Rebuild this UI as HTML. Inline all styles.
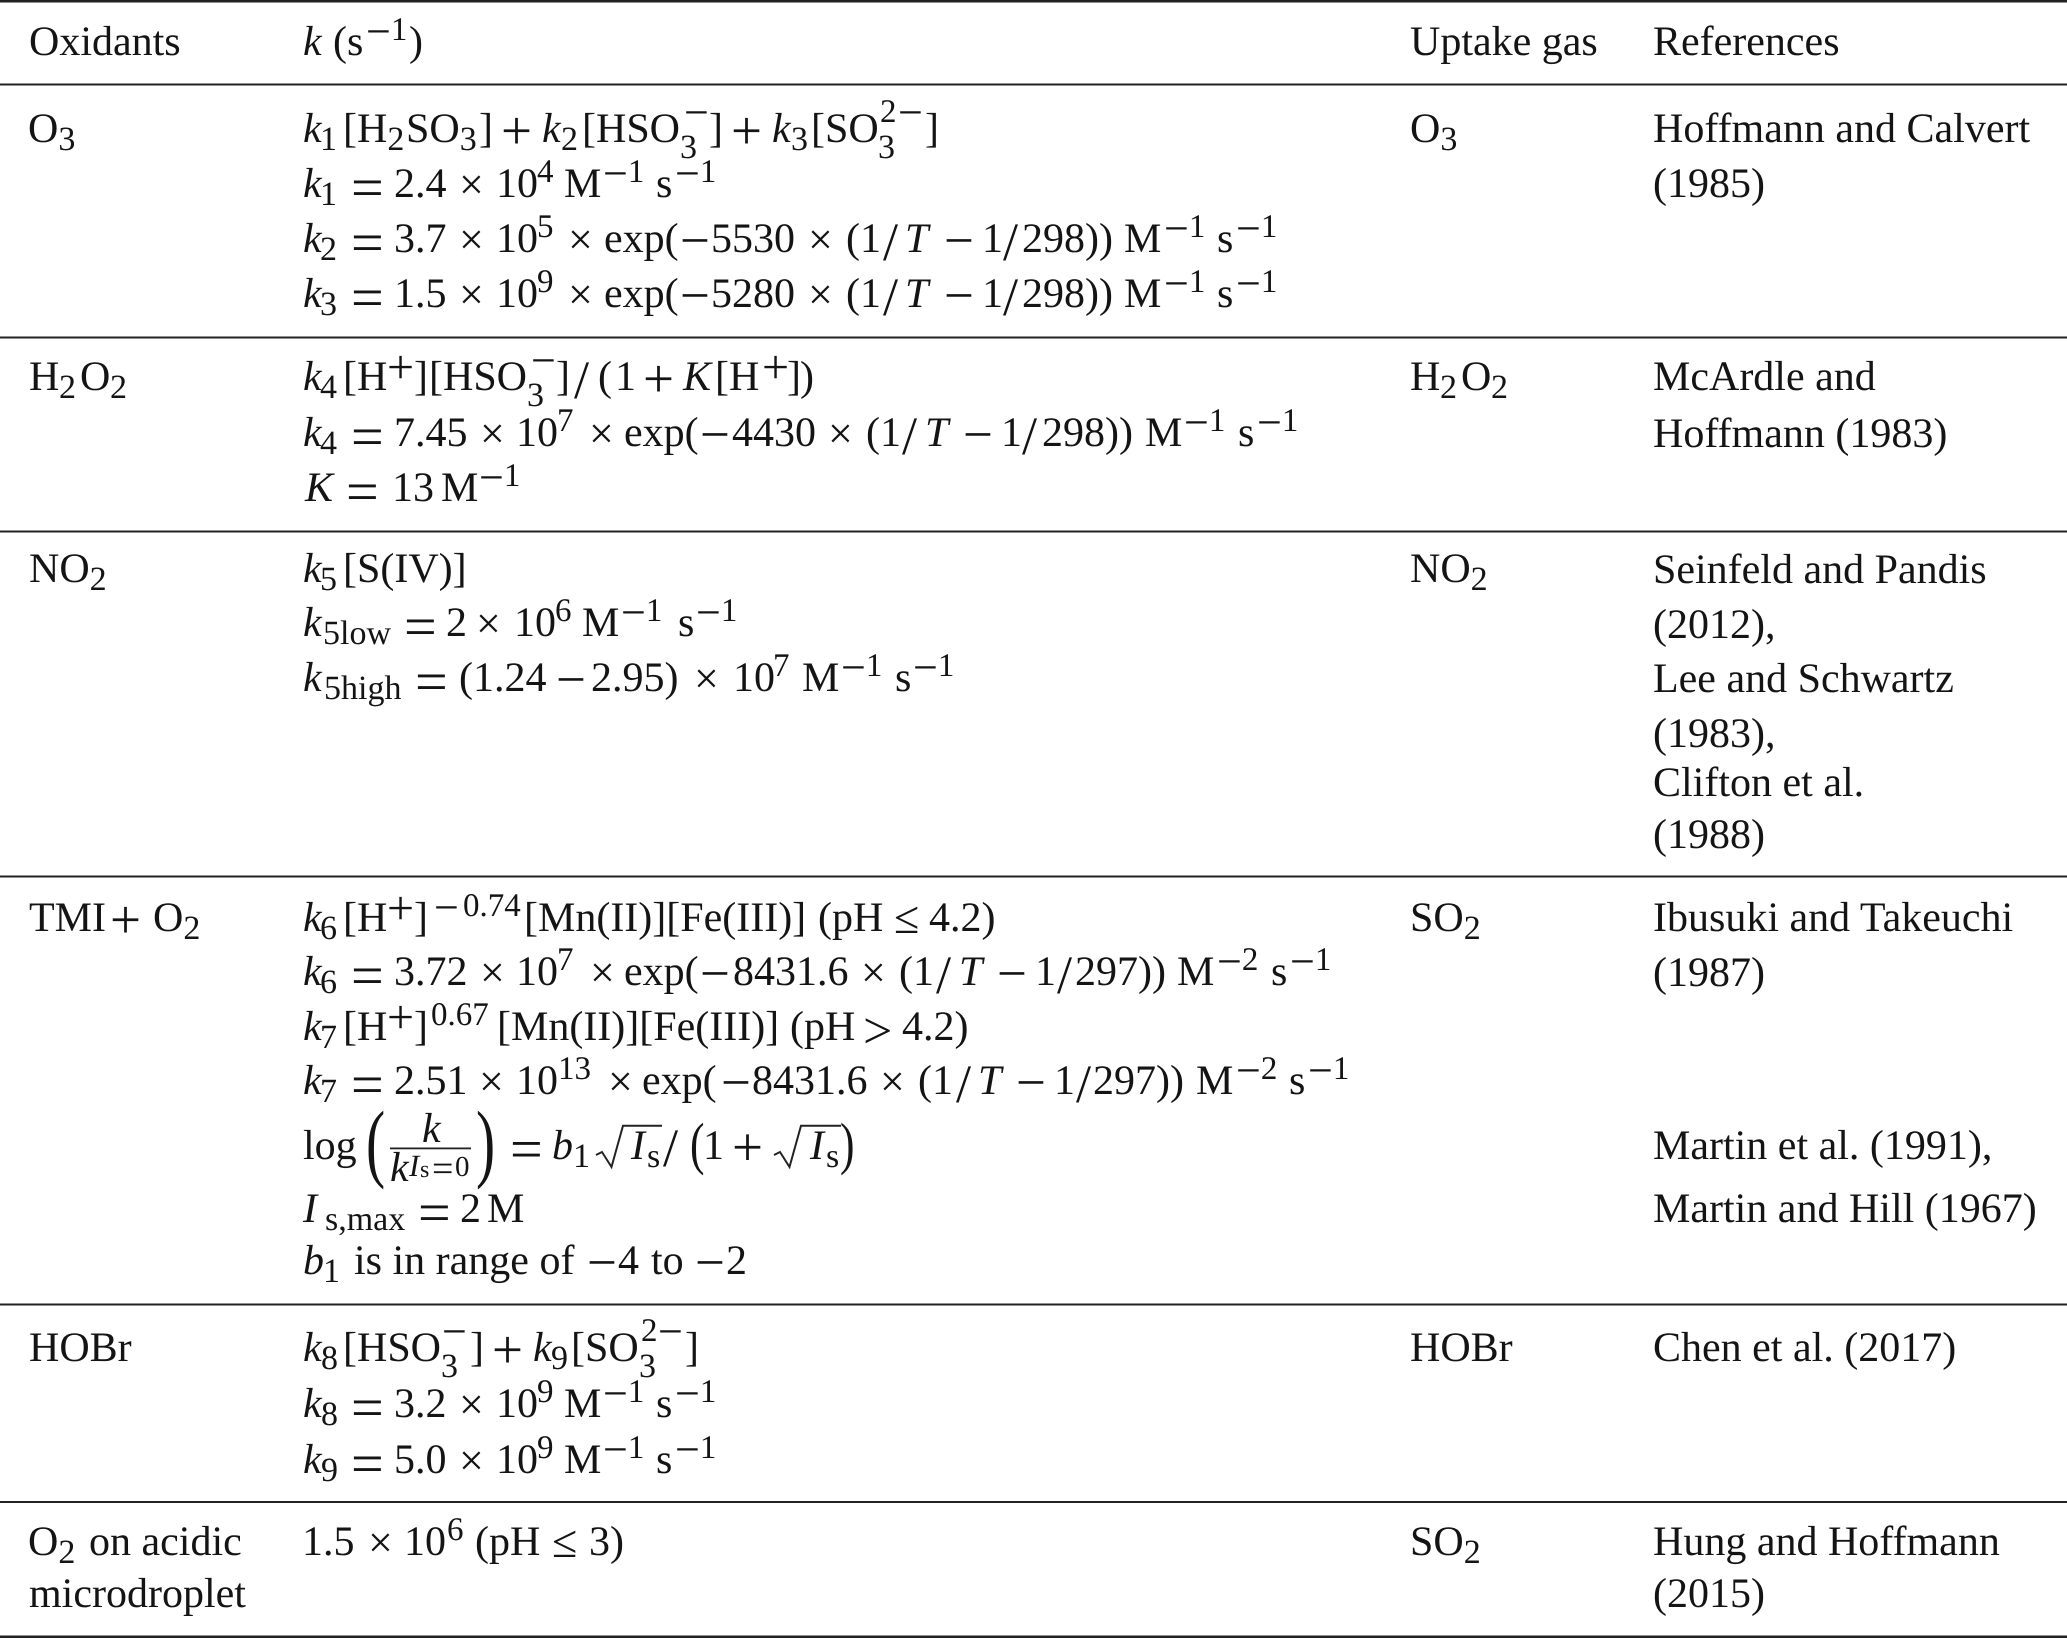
<!DOCTYPE html>
<html><head><meta charset="utf-8"><style>
html,body{margin:0;padding:0;background:#fff}
svg{display:block}
text{font-family:"Liberation Serif",serif;font-size:42px;fill:#141414;white-space:pre;text-rendering:geometricPrecision}
.i{font-style:italic}
.d{font-size:34px;baseline-shift:-8px}
.D{font-size:34px;baseline-shift:-16px}
.u{font-size:33px;baseline-shift:15px}
.U{font-size:33px;baseline-shift:20px}
.m{font-size:44px;baseline-shift:9px}
.n{font-size:44px;baseline-shift:15px}
.p{font-size:48px;baseline-shift:7px}
.M{font-size:53px;baseline-shift:-6px}
.e{font-size:58px;baseline-shift:-9.5px}
.x{font-size:44px;baseline-shift:-2px}
.a{font-size:55px;baseline-shift:-6.5px}
.l{font-size:46px;baseline-shift:-2px}
.g{font-size:52px;baseline-shift:-8px}
.v{font-size:54px;baseline-shift:-8px}
</style></head><body>
<svg xmlns="http://www.w3.org/2000/svg" width="2067" height="1638" viewBox="0 0 2067 1638">
<rect width="2067" height="1638" fill="#fff"/>
<g fill="#222">
<rect x="0" y="0" width="2067" height="2.5"/>
<rect x="0" y="83.5" width="2067" height="2"/>
<rect x="0" y="336.5" width="2067" height="2"/>
<rect x="0" y="530.5" width="2067" height="2"/>
<rect x="0" y="875.5" width="2067" height="2"/>
<rect x="0" y="1303.5" width="2067" height="2"/>
<rect x="0" y="1501" width="2067" height="2"/>
<rect x="0" y="1635.5" width="2067" height="2.5"/>
</g>

<!-- header -->
<text x="29" y="55">Oxidants</text>
<text y="55"><tspan x="303" class="i">k</tspan><tspan x="333">(s</tspan><tspan x="366" class="m">−</tspan><tspan class="u">1</tspan><tspan x="409">)</tspan></text>
<text x="1410" y="55">Uptake gas</text>
<text x="1653" y="55">References</text>

<!-- O3 -->
<text y="142" x="28">O<tspan class="d">3</tspan></text>
<text y="142"><tspan x="303" class="i">k</tspan><tspan x="320" class="d">1</tspan><tspan x="343">[H</tspan><tspan class="d">2</tspan><tspan x="406">SO</tspan><tspan class="d">3</tspan><tspan x="479">]</tspan><tspan x="501" class="a">+</tspan><tspan x="542" class="i">k</tspan><tspan x="561" class="d">2</tspan><tspan x="582">[HSO</tspan><tspan x="680" class="D">3</tspan><tspan x="684" class="n">−</tspan><tspan x="709">]</tspan><tspan x="731" class="a">+</tspan><tspan x="772" class="i">k</tspan><tspan x="791" class="d">3</tspan><tspan x="811">[SO</tspan><tspan x="878" class="D">3</tspan><tspan x="880" class="U">2</tspan><tspan x="898" class="n">−</tspan><tspan x="925">]</tspan></text>
<text y="197"><tspan x="303" class="i">k</tspan><tspan x="320" class="d">1</tspan><tspan x="351" class="e">=</tspan><tspan x="394">2.4</tspan><tspan x="459" class="x">×</tspan><tspan x="496">10</tspan><tspan x="537" class="u">4</tspan><tspan x="564">M</tspan><tspan x="603" class="m">−</tspan><tspan class="u">1</tspan><tspan x="656">s</tspan><tspan x="675" class="m">−</tspan><tspan class="u">1</tspan></text>
<text y="252"><tspan x="303" class="i">k</tspan><tspan x="320" class="d">2</tspan><tspan x="351" class="e">=</tspan><tspan x="394">3.7</tspan><tspan x="459" class="x">×</tspan><tspan x="496">10</tspan><tspan x="537" class="u">5</tspan><tspan x="568" class="x">×</tspan><tspan x="604">exp(</tspan><tspan x="680" class="M">−</tspan><tspan x="711">5530</tspan><tspan x="808" class="x">×</tspan><tspan x="846">(1</tspan><tspan x="883" class="v">/</tspan><tspan x="905" class="i">T</tspan><tspan x="944" class="M">−</tspan><tspan x="982">1</tspan><tspan x="1003" class="v">/</tspan><tspan x="1022">298))</tspan><tspan x="1124">M</tspan><tspan x="1164" class="m">−</tspan><tspan class="u">1</tspan><tspan x="1217">s</tspan><tspan x="1236" class="m">−</tspan><tspan class="u">1</tspan></text>
<text y="307"><tspan x="303" class="i">k</tspan><tspan x="320" class="d">3</tspan><tspan x="351" class="e">=</tspan><tspan x="394">1.5</tspan><tspan x="459" class="x">×</tspan><tspan x="496">10</tspan><tspan x="537" class="u">9</tspan><tspan x="568" class="x">×</tspan><tspan x="604">exp(</tspan><tspan x="680" class="M">−</tspan><tspan x="711">5280</tspan><tspan x="808" class="x">×</tspan><tspan x="846">(1</tspan><tspan x="883" class="v">/</tspan><tspan x="905" class="i">T</tspan><tspan x="944" class="M">−</tspan><tspan x="982">1</tspan><tspan x="1003" class="v">/</tspan><tspan x="1022">298))</tspan><tspan x="1124">M</tspan><tspan x="1164" class="m">−</tspan><tspan class="u">1</tspan><tspan x="1217">s</tspan><tspan x="1236" class="m">−</tspan><tspan class="u">1</tspan></text>
<text x="1410" y="142">O<tspan class="d">3</tspan></text>
<text x="1653" y="142">Hoffmann and Calvert</text>
<text x="1653" y="197">(1985)</text>

<!-- H2O2 -->
<text y="390"><tspan x="29">H</tspan><tspan x="59" class="d">2</tspan><tspan x="80">O</tspan><tspan x="110" class="d">2</tspan></text>
<text y="390"><tspan x="303" class="i">k</tspan><tspan x="320" class="d">4</tspan><tspan x="343">[H</tspan><tspan x="387" class="p">+</tspan><tspan x="414">]</tspan><tspan x="429">[HSO</tspan><tspan x="527" class="D">3</tspan><tspan x="531" class="n">−</tspan><tspan x="556">]</tspan><tspan x="574" class="v">/</tspan><tspan x="598">(</tspan><tspan x="615">1</tspan><tspan x="643" class="a">+</tspan><tspan x="683" class="i">K</tspan><tspan x="715">[H</tspan><tspan x="762" class="p">+</tspan><tspan x="787">]</tspan><tspan x="800">)</tspan></text>
<text y="446"><tspan x="303" class="i">k</tspan><tspan x="320" class="d">4</tspan><tspan x="351" class="e">=</tspan><tspan x="394">7.45</tspan><tspan x="480" class="x">×</tspan><tspan x="516">10</tspan><tspan x="557" class="u">7</tspan><tspan x="589" class="x">×</tspan><tspan x="624">exp(</tspan><tspan x="700" class="M">−</tspan><tspan x="732">4430</tspan><tspan x="828" class="x">×</tspan><tspan x="866">(1</tspan><tspan x="902" class="v">/</tspan><tspan x="925" class="i">T</tspan><tspan x="963" class="M">−</tspan><tspan x="1001">1</tspan><tspan x="1022" class="v">/</tspan><tspan x="1042">298))</tspan><tspan x="1145">M</tspan><tspan x="1184" class="m">−</tspan><tspan class="u">1</tspan><tspan x="1238">s</tspan><tspan x="1257" class="m">−</tspan><tspan class="u">1</tspan></text>
<text y="501"><tspan x="305" class="i">K</tspan><tspan x="346" class="e">=</tspan><tspan x="392">13</tspan><tspan x="441">M</tspan><tspan x="479" class="m">−</tspan><tspan class="u">1</tspan></text>
<text y="390"><tspan x="1410">H</tspan><tspan x="1440" class="d">2</tspan><tspan x="1461">O</tspan><tspan x="1491" class="d">2</tspan></text>
<text x="1653" y="390">McArdle and</text>
<text x="1653" y="447">Hoffmann (1983)</text>

<!-- NO2 -->
<text x="29" y="582">NO<tspan class="d">2</tspan></text>
<text y="582"><tspan x="303" class="i">k</tspan><tspan x="320" class="d">5</tspan><tspan x="343">[S(IV)]</tspan></text>
<text y="636"><tspan x="303" class="i">k</tspan><tspan x="323" class="d">5low</tspan><tspan x="404" class="e">=</tspan><tspan x="446">2</tspan><tspan x="476" class="x">×</tspan><tspan x="514">10</tspan><tspan x="555" class="u">6</tspan><tspan x="582">M</tspan><tspan x="621" class="m">−</tspan><tspan class="u">1</tspan><tspan x="678">s</tspan><tspan x="696" class="m">−</tspan><tspan class="u">1</tspan></text>
<text y="691"><tspan x="303" class="i">k</tspan><tspan x="324" class="d">5high</tspan><tspan x="415" class="e">=</tspan><tspan x="459">(1.24</tspan><tspan x="556" class="M">−</tspan><tspan x="591">2.95)</tspan><tspan x="694" class="x">×</tspan><tspan x="733">10</tspan><tspan x="773" class="u">7</tspan><tspan x="802">M</tspan><tspan x="841" class="m">−</tspan><tspan class="u">1</tspan><tspan x="895">s</tspan><tspan x="913" class="m">−</tspan><tspan class="u">1</tspan></text>
<text x="1410" y="582">NO<tspan class="d">2</tspan></text>
<text x="1653" y="583">Seinfeld and Pandis</text>
<text x="1653" y="638">(2012),</text>
<text x="1653" y="692">Lee and Schwartz</text>
<text x="1653" y="747">(1983),</text>
<text x="1653" y="796">Clifton et al.</text>
<text x="1653" y="848">(1988)</text>

<!-- TMI -->
<text y="931"><tspan x="29">TMI</tspan><tspan x="110" class="a">+</tspan><tspan x="153">O</tspan><tspan class="d">2</tspan></text>
<text y="931"><tspan x="303" class="i">k</tspan><tspan x="320" class="d">6</tspan><tspan x="343">[H</tspan><tspan x="387" class="p">+</tspan><tspan x="414">]</tspan><tspan x="434" class="m">−</tspan><tspan x="463" class="u">0.74</tspan><tspan x="524">[Mn(II)][Fe(III)]</tspan><tspan x="818">(pH</tspan><tspan x="894" class="l">≤</tspan><tspan x="929">4.2)</tspan></text>
<text y="985"><tspan x="303" class="i">k</tspan><tspan x="320" class="d">6</tspan><tspan x="351" class="e">=</tspan><tspan x="394">3.72</tspan><tspan x="480" class="x">×</tspan><tspan x="516">10</tspan><tspan x="557" class="u">7</tspan><tspan x="590" class="x">×</tspan><tspan x="624">exp(</tspan><tspan x="700" class="M">−</tspan><tspan x="733">8431.6</tspan><tspan x="861" class="x">×</tspan><tspan x="899">(1</tspan><tspan x="936" class="v">/</tspan><tspan x="959" class="i">T</tspan><tspan x="997" class="M">−</tspan><tspan x="1035">1</tspan><tspan x="1057" class="v">/</tspan><tspan x="1075">297))</tspan><tspan x="1177">M</tspan><tspan x="1217" class="m">−</tspan><tspan class="u">2</tspan><tspan x="1271">s</tspan><tspan x="1290" class="m">−</tspan><tspan class="u">1</tspan></text>
<text y="1040"><tspan x="303" class="i">k</tspan><tspan x="320" class="d">7</tspan><tspan x="343">[H</tspan><tspan x="387" class="p">+</tspan><tspan x="414">]</tspan><tspan x="431" class="u">0.67</tspan><tspan x="497">[Mn(II)][Fe(III)]</tspan><tspan x="790">(pH</tspan><tspan x="863" class="g">&gt;</tspan><tspan x="902">4.2)</tspan></text>
<text y="1094"><tspan x="303" class="i">k</tspan><tspan x="320" class="d">7</tspan><tspan x="351" class="e">=</tspan><tspan x="394">2.51</tspan><tspan x="479" class="x">×</tspan><tspan x="516">10</tspan><tspan x="558" class="u">13</tspan><tspan x="608" class="x">×</tspan><tspan x="642">exp(</tspan><tspan x="721" class="M">−</tspan><tspan x="752">8431.6</tspan><tspan x="880" class="x">×</tspan><tspan x="918">(1</tspan><tspan x="956" class="v">/</tspan><tspan x="978" class="i">T</tspan><tspan x="1016" class="M">−</tspan><tspan x="1054">1</tspan><tspan x="1076" class="v">/</tspan><tspan x="1093">297))</tspan><tspan x="1196">M</tspan><tspan x="1236" class="m">−</tspan><tspan class="u">2</tspan><tspan x="1289">s</tspan><tspan x="1308" class="m">−</tspan><tspan class="u">1</tspan></text>

<!-- log line -->
<text x="303" y="1159">log</text>
<text transform="translate(366,1171) scale(.66,1)" style="font-size:87px">(</text>
<text x="422" y="1142" class="i">k</text>
<rect x="390" y="1147.5" width="81" height="1.8" fill="#222"/>
<text x="390" y="1181" class="i">k</text>
<text y="1176"><tspan x="409" class="i" style="font-size:31px">I</tspan><tspan x="420" style="font-size:24px" dy="1">s</tspan><tspan x="432" dy="4" style="font-size:38px">=</tspan><tspan x="455" dy="-5" style="font-size:29px">0</tspan></text>
<text transform="translate(476,1171) scale(.66,1)" style="font-size:87px">)</text>
<text x="510" y="1159" class="e">=</text>
<text x="552" y="1159" class="i">b</text>
<text x="573" y="1167" style="font-size:34px">1</text>
<path d="M596 1155 L602 1152 L611.5 1167 L623 1125.7 L662 1125.7" fill="none" stroke="#222" stroke-width="2"/>
<text x="631" y="1159" class="i">I</text>
<text x="647" y="1167" style="font-size:34px">s</text>
<text x="663" y="1166" style="font-size:54px">/</text>
<text transform="translate(690,1163) scale(.75,1)" style="font-size:58px">(</text>
<text x="703" y="1159">1</text>
<text x="732" y="1159" class="a">+</text>
<path d="M774 1155 L780 1152 L789.5 1167 L801 1125.7 L841 1125.7" fill="none" stroke="#222" stroke-width="2"/>
<text x="810" y="1159" class="i">I</text>
<text x="826" y="1167" style="font-size:34px">s</text>
<text transform="translate(840,1163) scale(.75,1)" style="font-size:58px">)</text>

<text y="1222"><tspan x="303" class="i">I</tspan><tspan x="325" class="d">s,max</tspan><tspan x="418" class="e">=</tspan><tspan x="460">2</tspan><tspan x="487">M</tspan></text>
<text y="1274"><tspan x="303" class="i">b</tspan><tspan x="323" class="d">1</tspan><tspan x="354">is in range of</tspan><tspan x="587" class="M">−</tspan><tspan x="618">4</tspan><tspan x="651">to</tspan><tspan x="695" class="M">−</tspan><tspan x="726">2</tspan></text>
<text x="1410" y="931">SO<tspan class="d">2</tspan></text>
<text x="1653" y="931">Ibusuki and Takeuchi</text>
<text x="1653" y="986">(1987)</text>
<text x="1653" y="1159">Martin et al. (1991),</text>
<text x="1653" y="1222">Martin and Hill (1967)</text>

<!-- HOBr -->
<text x="29" y="1361">HOBr</text>
<text y="1361"><tspan x="303" class="i">k</tspan><tspan x="321" class="d">8</tspan><tspan x="343">[HSO</tspan><tspan x="441" class="D">3</tspan><tspan x="442" class="n">−</tspan><tspan x="470">]</tspan><tspan x="492" class="a">+</tspan><tspan x="533" class="i">k</tspan><tspan x="551" class="d">9</tspan><tspan x="571">[SO</tspan><tspan x="639" class="D">3</tspan><tspan x="641" class="U">2</tspan><tspan x="658" class="n">−</tspan><tspan x="685">]</tspan></text>
<text y="1417"><tspan x="303" class="i">k</tspan><tspan x="321" class="d">8</tspan><tspan x="351" class="e">=</tspan><tspan x="394">3.2</tspan><tspan x="459" class="x">×</tspan><tspan x="496">10</tspan><tspan x="537" class="u">9</tspan><tspan x="564">M</tspan><tspan x="603" class="m">−</tspan><tspan class="u">1</tspan><tspan x="656">s</tspan><tspan x="675" class="m">−</tspan><tspan class="u">1</tspan></text>
<text y="1473"><tspan x="303" class="i">k</tspan><tspan x="321" class="d">9</tspan><tspan x="351" class="e">=</tspan><tspan x="394">5.0</tspan><tspan x="459" class="x">×</tspan><tspan x="496">10</tspan><tspan x="537" class="u">9</tspan><tspan x="564">M</tspan><tspan x="603" class="m">−</tspan><tspan class="u">1</tspan><tspan x="656">s</tspan><tspan x="675" class="m">−</tspan><tspan class="u">1</tspan></text>
<text x="1410" y="1361">HOBr</text>
<text x="1653" y="1361">Chen et al. (2017)</text>

<!-- O2 -->
<text y="1555"><tspan x="28">O</tspan><tspan class="d">2</tspan><tspan x="89">on acidic</tspan></text>
<text x="29" y="1607">microdroplet</text>
<text y="1555"><tspan x="302">1.5</tspan><tspan x="368" class="x">×</tspan><tspan x="404">10</tspan><tspan x="447" class="u">6</tspan><tspan x="475">(pH</tspan><tspan x="552" class="l">≤</tspan><tspan x="589">3)</tspan></text>
<text x="1410" y="1555">SO<tspan class="d">2</tspan></text>
<text x="1653" y="1555">Hung and Hoffmann</text>
<text x="1653" y="1607">(2015)</text>
</svg>
</body></html>
